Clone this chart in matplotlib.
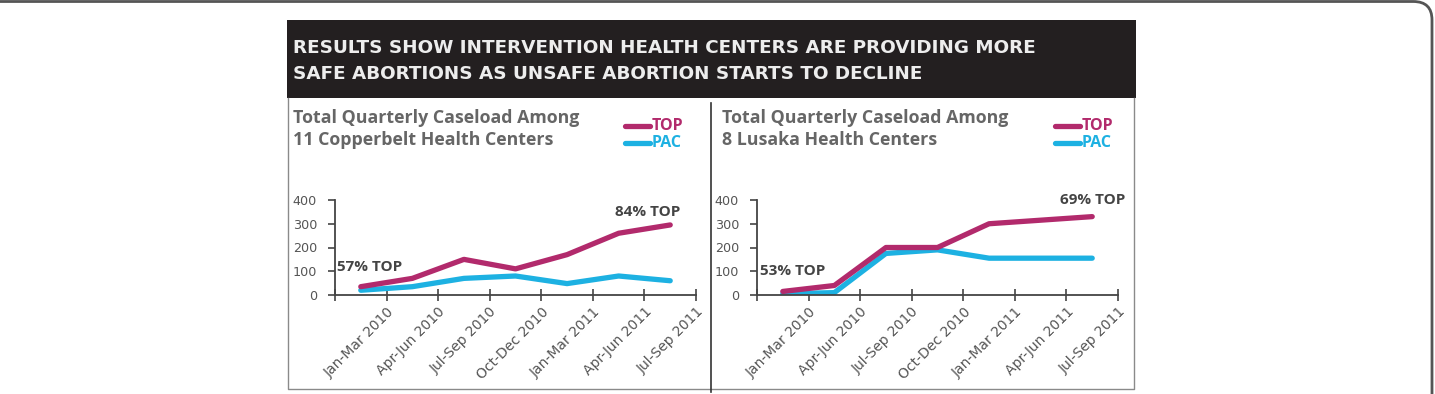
import matplotlib.pyplot as plt
from matplotlib.patches import Rectangle, FancyBboxPatch
from matplotlib.lines import Line2D

# data
quarters = ['Jan-Mar 2010', 'Apr-Jun 2010', 'Jul-Sep 2010', 'Oct-Dec 2010',
            'Jan-Mar 2011', 'Apr-Jun 2011', 'Jul-Sep 2011']
copperbelt_top = [35, 70, 150, 110, 170, 260, 295]
copperbelt_pac = [20, 35, 70, 80, 48, 80, 60]
lusaka_top = [15, 40, 200, 200, 300, 315, 330]
lusaka_pac = [5, 10, 175, 190, 155, 155, 155]
yticks = [0, 100, 200, 300, 400]

headline = ['RESULTS SHOW INTERVENTION HEALTH CENTERS ARE PROVIDING MORE',
            'SAFE ABORTIONS AS UNSAFE ABORTION STARTS TO DECLINE']
panel_titles = [['Total Quarterly Caseload Among', '11 Copperbelt Health Centers'],
                ['Total Quarterly Caseload Among', '8 Lusaka Health Centers']]
start_notes = ['57% TOP', '53% TOP']
end_notes = ['84% TOP', '69% TOP']

TOP_COLOR = '#b22a6c'
PAC_COLOR = '#1db1e2'
GREY = '#555555'

W, H = 1435, 394
fig = plt.figure(figsize=(W / 100, H / 100), dpi=100)


def fx(px):
    return px / W


def fy(py):
    return 1 - py / H


# outer rounded frame (only top and right edges visible)
frame = FancyBboxPatch((fx(-40), fy(460)), fx(1432 + 40), fy(1.5) - fy(460),
                       boxstyle='round,pad=0,rounding_size=0.013',
                       transform=fig.transFigure, fill=False,
                       edgecolor='#555555', linewidth=2, mutation_aspect=3.6)
fig.patches.append(frame)

# dark header band
fig.patches.append(Rectangle((fx(287), fy(98)), fx(1136 - 287), fy(20) - fy(98),
                             transform=fig.transFigure, facecolor='#231f20',
                             edgecolor='none'))
for yy, line in zip([48, 74], headline):
    fig.text(fx(293), fy(yy), line, color='#ededed', fontsize=13.2,
             fontweight='bold', va='center', ha='left')

# panel border and divider
fig.lines.append(Line2D([fx(288), fx(288), fx(1134), fx(1134)],
                        [fy(98), fy(389), fy(389), fy(98)],
                        transform=fig.transFigure, color='#8a8a8a', lw=1))
fig.lines.append(Line2D([fx(711), fx(711)], [fy(103), fy(392)],
                        transform=fig.transFigure, color='#333333', lw=1.2))

panels = [
    (335, 293, 625, copperbelt_top, copperbelt_pac),
    (757, 722, 1055, lusaka_top, lusaka_pac),
]
note_pos = [((337, 267), (615, 212)), ((760, 271), (1060, 200))]

for i, (ax_left, title_x, leg_x, top, pac) in enumerate(panels):
    ax = fig.add_axes([fx(ax_left), fy(295), fx(361), fy(200) - fy(295)])
    xs = range(len(quarters))
    ax.plot(xs, top, color=TOP_COLOR, lw=3.8, solid_capstyle='round',
            solid_joinstyle='round', zorder=3)
    ax.plot(xs, pac, color=PAC_COLOR, lw=3.8, solid_capstyle='round',
            solid_joinstyle='round', zorder=2)
    ax.set_xlim(-0.5, len(quarters) - 0.5)
    ax.set_ylim(0, 400)
    ax.set_yticks(yticks)
    ax.set_xticks([k - 0.5 for k in range(len(quarters) + 1)])
    ax.set_xticklabels([''] + quarters)
    for lab in ax.get_xticklabels():
        lab.set_rotation(45)
        lab.set_ha('right')
        lab.set_rotation_mode('anchor')
    for s in ['top', 'right']:
        ax.spines[s].set_visible(False)
    for s in ['left', 'bottom']:
        ax.spines[s].set_color('#444444')
        ax.spines[s].set_linewidth(1.3)
    ax.tick_params(axis='x', direction='inout', length=8, width=1.2,
                   color='#444444', labelsize=10, labelcolor=GREY, pad=3)
    ax.tick_params(axis='y', direction='out', length=5, width=1.2,
                   color='#444444', labelsize=9.2, labelcolor=GREY, pad=8)
    ax.set_facecolor('none')

    for yy, line in zip([118, 140], panel_titles[i]):
        fig.text(fx(title_x), fy(yy), line, color='#666666', fontsize=12.8,
                 fontweight='bold', family='Open Sans', va='center', ha='left')
    for yy, name, col in [(126, 'TOP', TOP_COLOR), (143, 'PAC', PAC_COLOR)]:
        fig.lines.append(Line2D([fx(leg_x), fx(leg_x + 25)], [fy(yy), fy(yy)],
                                transform=fig.transFigure, color=col, lw=3.8,
                                solid_capstyle='round'))
        fig.text(fx(leg_x + 27), fy(yy), name, color=col, fontsize=11.5,
                 fontweight='bold', family='Open Sans', va='center', ha='left')

    (sx, sy), (ex, ey) = note_pos[i]
    fig.text(fx(sx), fy(sy), start_notes[i], color='#444444', fontsize=11,
             fontweight='bold', family='Open Sans', va='center', ha='left')
    fig.text(fx(ex), fy(ey), end_notes[i], color='#444444', fontsize=11,
             fontweight='bold', family='Open Sans', va='center', ha='left')

fig.savefig('out.png', dpi=100)
